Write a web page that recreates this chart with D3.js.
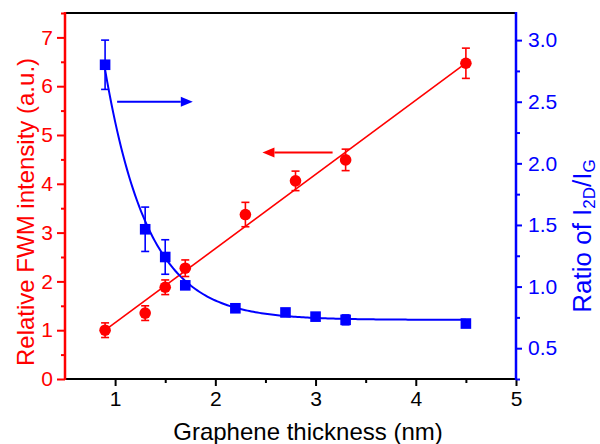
<!DOCTYPE html>
<html>
<head>
<meta charset="utf-8">
<script src="https://cdn.jsdelivr.net/npm/d3@7"></script>
<style>
  html, body { margin: 0; padding: 0; background: #fff; }
  svg { display: block; font-family: "Liberation Sans", Arial, sans-serif; }
</style>
</head>
<body>
<svg id="chart" width="600" height="444"></svg>
<script>
// Relative FWM intensity vs graphene thickness (left axis, red)
const thicknessFwm = [0.9, 1.3, 1.5, 1.7, 2.3, 2.8, 3.3, 4.5];
const fwmIntensity = [1.0, 1.35, 1.88, 2.27, 3.37, 4.06, 4.49, 6.47];
const fwmError     = [0.15, 0.15, 0.15, 0.17, 0.25, 0.2, 0.22, 0.31];

// Raman 2D/G intensity ratio vs graphene thickness (right axis, blue)
const thicknessRatio = [0.9, 1.3, 1.5, 1.7, 2.2, 2.7, 3.0, 3.3, 4.5];
const ratio2DG       = [2.80, 1.465, 1.24, 1.01, 0.824, 0.79, 0.756, 0.73, 0.70];
const ratioError     = [0.2, 0.18, 0.14, 0.03, 0.02, 0.03, 0.02, 0.04, 0.02];

// Linear fit of the FWM intensity
const fwmFitSlope = 1.52;
const fwmFitIntercept = -0.368;

// Exponential-decay fit of the ratio: y0 + A * exp(-(x - x0) / t)
const ratioFitY0 = 0.73;
const ratioFitA = 2.03;
const ratioFitX0 = 0.9;
const ratioFitT = 0.43;
const fitRange = [0.9, 4.5];

// Tick values
const xMajorTicks = [1, 2, 3, 4, 5];
const xMinorTicks = [1.5, 2.5, 3.5, 4.5];
const leftMajorTicks = [0, 1, 2, 3, 4, 5, 6, 7];
const leftMinorTicks = [0.5, 1.5, 2.5, 3.5, 4.5, 5.5, 6.5, 7.5];
const rightMajorTicks = [0.5, 1.0, 1.5, 2.0, 2.5, 3.0];
const rightMinorTicks = [0.25, 0.75, 1.25, 1.75, 2.25, 2.75];

// Direction arrows pointing to each series' axis: [xStart, xEnd, y]
const ratioArrow = [1.02, 1.775, 2.5];
const fwmArrow = [3.17, 2.47, 4.64];

const RED = "#ff0000", BLUE = "#0000ff", BLACK = "#000000";

const svg = d3.select("#chart");
const plotLeft = 65, plotRight = 516, plotTop = 13, plotBottom = 379;

const x = d3.scaleLinear().domain([0.5, 5]).range([plotLeft, plotRight]);
const yL = d3.scaleLinear().domain([0, 7.5]).range([plotBottom, plotTop]);
const yR = d3.scaleLinear().domain([0.25, 3.22]).range([plotBottom, plotTop]);

// ---- axes ----
function styleAxis(g, color, fontSize) {
  g.select(".domain").remove();
  g.selectAll("line").attr("stroke", color).attr("stroke-width", 2);
  g.selectAll("text").attr("fill", color).style("font-size", fontSize + "px")
    .style("font-family", "'Liberation Sans', Arial, sans-serif");
}

// bottom
svg.append("g").attr("transform", `translate(0,${plotBottom})`)
  .call(d3.axisBottom(x).tickValues(xMajorTicks).tickFormat(d3.format("d"))
    .tickSize(7).tickPadding(5))
  .call(g => styleAxis(g, BLACK, 21));
svg.append("g").attr("transform", `translate(0,${plotBottom})`)
  .call(d3.axisBottom(x).tickValues(xMinorTicks).tickFormat("").tickSize(4))
  .call(g => styleAxis(g, BLACK, 21));

// left
svg.append("g").attr("transform", `translate(${plotLeft},0)`)
  .call(d3.axisLeft(yL).tickValues(leftMajorTicks).tickFormat(d3.format("d"))
    .tickSize(8).tickPadding(4))
  .call(g => styleAxis(g, RED, 21));
svg.append("g").attr("transform", `translate(${plotLeft},0)`)
  .call(d3.axisLeft(yL).tickValues(leftMinorTicks).tickFormat("").tickSize(4))
  .call(g => styleAxis(g, RED, 21));

// right
svg.append("g").attr("transform", `translate(${plotRight},0)`)
  .call(d3.axisRight(yR).tickValues(rightMajorTicks).tickFormat(d3.format(".1f"))
    .tickSize(6).tickPadding(6))
  .call(g => styleAxis(g, BLUE, 21));
svg.append("g").attr("transform", `translate(${plotRight},0)`)
  .call(d3.axisRight(yR).tickValues(rightMinorTicks).tickFormat("").tickSize(4))
  .call(g => styleAxis(g, BLUE, 21));

// frame
svg.append("line").attr("x1", plotLeft).attr("x2", plotRight).attr("y1", plotTop).attr("y2", plotTop)
  .attr("stroke", BLACK).attr("stroke-width", 2);
svg.append("line").attr("x1", plotLeft).attr("x2", plotRight).attr("y1", plotBottom).attr("y2", plotBottom)
  .attr("stroke", BLACK).attr("stroke-width", 2);
svg.append("line").attr("x1", plotLeft).attr("x2", plotLeft).attr("y1", plotTop - 1).attr("y2", plotBottom + 1)
  .attr("stroke", RED).attr("stroke-width", 2.5);
svg.append("line").attr("x1", plotRight).attr("x2", plotRight).attr("y1", plotTop - 1).attr("y2", plotBottom + 1)
  .attr("stroke", BLUE).attr("stroke-width", 2.5);

// ---- axis titles ----
svg.append("text")
  .attr("x", 308).attr("y", 440)
  .attr("text-anchor", "middle").style("font-size", "24px").attr("fill", BLACK)
  .text("Graphene thickness (nm)");

svg.append("text")
  .attr("transform", `translate(34,212) rotate(-90)`)
  .attr("text-anchor", "middle").style("font-size", "24px").attr("fill", RED)
  .text("Relative FWM intensity (a.u.)");

const rt = svg.append("text")
  .attr("transform", `translate(591,236) rotate(-90)`)
  .attr("text-anchor", "middle").style("font-size", "26px").attr("fill", BLUE);
rt.append("tspan").text("Ratio of I");
rt.append("tspan").attr("dy", 4).style("font-size", "17px").text("2D");
rt.append("tspan").attr("dy", -4).text("/I");
rt.append("tspan").attr("dy", 4).style("font-size", "17px").text("G");

// ---- fits ----
const linePath = d3.line().x(d => x(d[0])).y(d => yL(d[1]));
svg.append("path")
  .datum(fitRange.map(t => [t, fwmFitIntercept + fwmFitSlope * t]))
  .attr("d", linePath).attr("fill", "none").attr("stroke", RED).attr("stroke-width", 1.6);

const curveXs = d3.range(fitRange[0], fitRange[1] + 1e-9, 0.02);
const curvePath = d3.line().x(d => x(d[0])).y(d => yR(d[1]));
svg.append("path")
  .datum(curveXs.map(t => [t, ratioFitY0 + ratioFitA * Math.exp(-(t - ratioFitX0) / ratioFitT)]))
  .attr("d", curvePath).attr("fill", "none").attr("stroke", BLUE).attr("stroke-width", 2);

// ---- error bars + markers ----
function errorBars(xs, ys, es, yScale, color) {
  const g = svg.append("g").attr("stroke", color).attr("stroke-width", 1.6);
  xs.forEach((xv, i) => {
    const cx = x(xv), y1 = yScale(ys[i] + es[i]), y2 = yScale(ys[i] - es[i]);
    g.append("line").attr("x1", cx).attr("x2", cx).attr("y1", y1).attr("y2", y2);
    g.append("line").attr("x1", cx - 4).attr("x2", cx + 4).attr("y1", y1).attr("y2", y1);
    g.append("line").attr("x1", cx - 4).attr("x2", cx + 4).attr("y1", y2).attr("y2", y2);
  });
}

errorBars(thicknessFwm, fwmIntensity, fwmError, yL, RED);
svg.append("g").selectAll("circle")
  .data(thicknessFwm.map((t, i) => [t, fwmIntensity[i]]))
  .join("circle")
  .attr("cx", d => x(d[0])).attr("cy", d => yL(d[1])).attr("r", 5.8)
  .attr("fill", RED);

errorBars(thicknessRatio, ratio2DG, ratioError, yR, BLUE);
svg.append("g").selectAll("rect")
  .data(thicknessRatio.map((t, i) => [t, ratio2DG[i]]))
  .join("rect")
  .attr("x", d => x(d[0]) - 5.3).attr("y", d => yR(d[1]) - 5.3)
  .attr("width", 10.6).attr("height", 10.6)
  .attr("fill", BLUE);

// ---- direction arrows ----
function arrow(spec, yScale, color) {
  const [xs, xe, yv] = spec;
  const x1 = x(xs), x2 = x(xe), yy = yScale(yv);
  const dir = Math.sign(x2 - x1), headLen = 12, headHalf = 5;
  svg.append("line").attr("x1", x1).attr("x2", x2 - dir * headLen).attr("y1", yy).attr("y2", yy)
    .attr("stroke", color).attr("stroke-width", 2);
  svg.append("path")
    .attr("d", `M${x2},${yy}L${x2 - dir * headLen},${yy - headHalf}L${x2 - dir * headLen},${yy + headHalf}Z`)
    .attr("fill", color);
}
arrow(ratioArrow, yR, BLUE);
arrow(fwmArrow, yL, RED);
</script>
</body>
</html>
